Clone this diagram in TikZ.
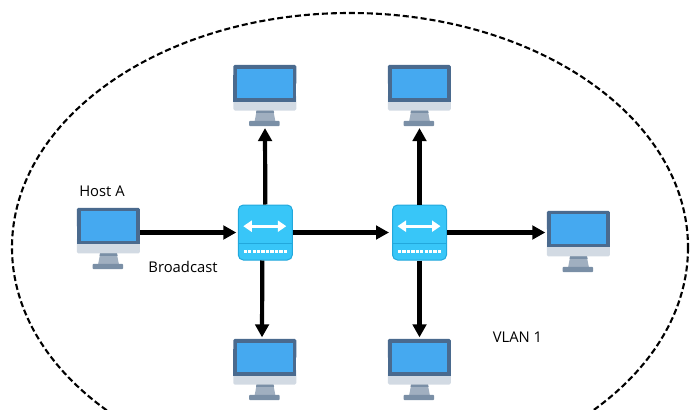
\documentclass[tikz,border=0pt]{standalone}
\usepackage{fontspec}
\setmainfont{Open Sans}
\usetikzlibrary{arrows.meta}

\definecolor{bezel}{HTML}{4A6A8E}
\definecolor{screenblue}{HTML}{45A9F0}
\definecolor{chin}{HTML}{D2DAE3}
\definecolor{neck}{HTML}{A0AFC0}
\definecolor{foot}{HTML}{7A8FA6}
\definecolor{switchfill}{HTML}{38C6F8}
\definecolor{switchline}{HTML}{22A8DC}

\tikzset{
  host/.style={minimum width=63pt,minimum height=61.3pt,inner sep=0pt},
  switch/.style={minimum width=54pt,minimum height=55pt,inner sep=0pt,
    rounded corners=5pt,draw=switchline,fill=switchfill,line width=1pt},
  link/.style={line width=4.2pt,-{Stealth[length=13pt,width=13.5pt,inset=0pt]},shorten >=1.5pt},
  lbl/.style={inner sep=0pt,font=\fontsize{14.8}{17}\selectfont,text=black}
}

\begin{document}
\begin{tikzpicture}[x=1pt,y=-1pt]
\useasboundingbox (0,0) rectangle (700,409);

\begin{scope}
\clip (0,0) rectangle (700,409);
\draw [dashed,line width=2.1pt,dash pattern=on 6pt off 3pt] (350,247.5) ellipse (338 and 234.5);
\end{scope}

% monitors
\foreach \name/\x/\y in {hostA/108.5/238.6,topA/265/95.7,topB/419.5/95.7,
    botA/265/369.7,botB/419.5/369.7,right/578.5/241.6}{
  \node [host] (\name) at (\x,\y) {};
  \begin{scope}[shift={(\name.north west)}]
  \fill [chin,rounded corners=1.5pt] (0,30) -- (63,30) -- (63,45.7) -- (0,45.7) -- cycle;
  \fill [bezel,rounded corners=1.5pt] (0,0) -- (63,0) -- (63,20) -- (0,20) -- cycle;
  \fill [bezel] (0,10) rectangle (63,36.7);
  \fill [screenblue] (3.7,3.7) rectangle (59.4,33);
  \fill [neck] (23.4,45.7) -- (40,45.7) -- (42,56) -- (21.4,56) -- cycle;
  \fill [foot] (23.2,45.7) -- (40.2,45.7) -- (40.8,48) -- (22.7,48) -- cycle;
  \fill [foot,rounded corners=1pt] (15.7,56) -- (46.4,56) -- (46.4,61.3) -- (15.7,61.3) -- cycle;
  \end{scope}
};

% switches
\foreach \name/\x in {swA/265.3,swB/419.5}{
  \node [switch] (\name) at (\x,232.5) {};
  \begin{scope}[shift={(\name.north west)}]
  \draw [switchline,line width=1.2pt] (0,39) -- (54,39);
  \draw [white,line width=3pt,{Stealth[length=8.5pt,width=11pt,inset=0pt]}-{Stealth[length=8.5pt,width=11pt,inset=0pt]}] (5.5,21.7) -- (48.5,21.7);
  \foreach \i in {0,...,9}{
    \fill [white] (5.8+4.45*\i,45.2) rectangle +(3.4,3.6);
  };
  \end{scope}
};

\draw [link] (hostA.east |- swA.west) -- (swA.west);
\draw [link,shorten >=3pt] (swA.east) -- (swB.west);
\draw [link] (swB.east) -- (right.west |- swB.east);

\draw [link] (swA.north) -- (topA.south);
\draw [link] (swB.north) -- (topB.south);
\draw [link] ([xshift=-3pt]swA.south) -- ([xshift=-3pt]botA.north);
\draw [link] (swB.south) -- (botB.north);

\node [lbl] (hostlabel) at (102,191.5) {Host A};
\node [lbl] (bcast) at (183,267) {Broadcast};
\node [lbl] (vlan) at (517.5,337) {VLAN 1};

\end{tikzpicture}
\end{document}
